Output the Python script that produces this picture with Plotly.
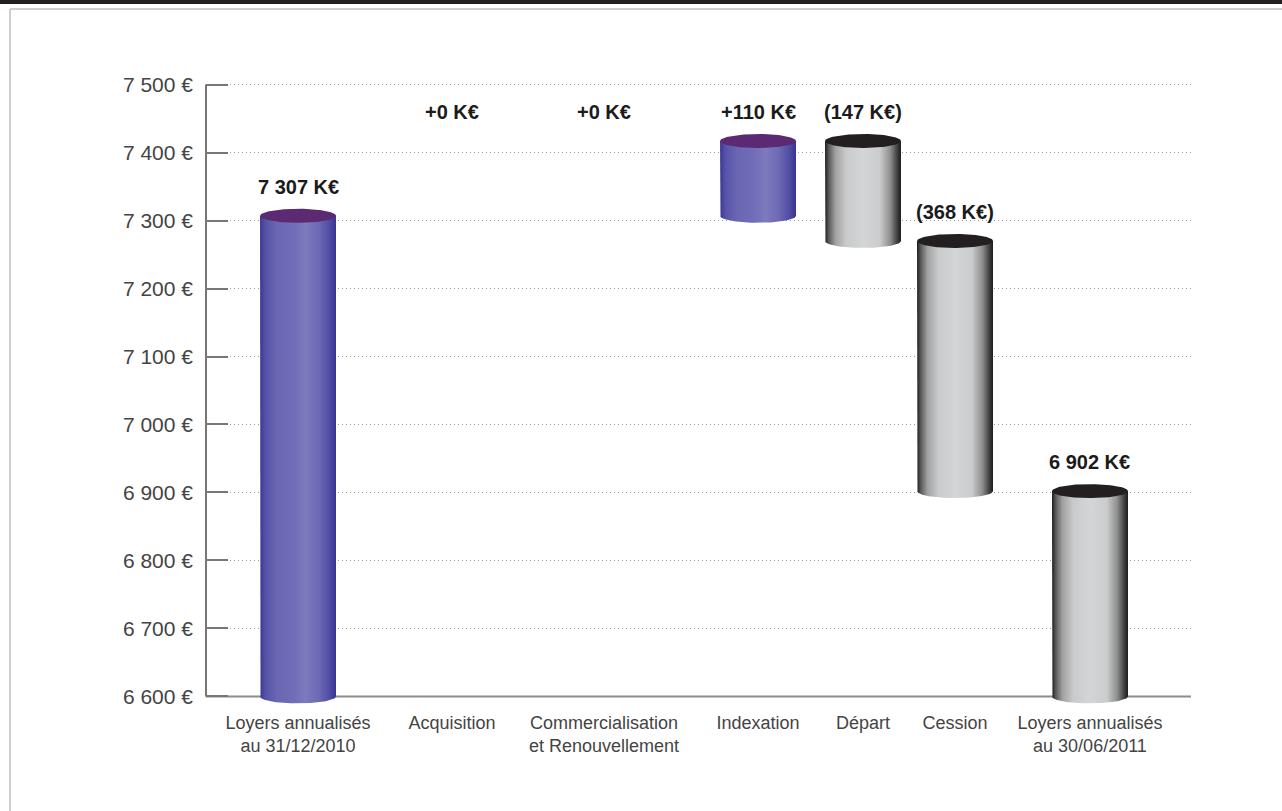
import numpy as np
import plotly.graph_objects as go

# ---- data -------------------------------------------------------------
categories = [
    "Loyers annualisés<br>au 31/12/2010",
    "Acquisition",
    "Commercialisation<br>et Renouvellement",
    "Indexation",
    "Départ",
    "Cession",
    "Loyers annualisés<br>au 30/06/2011",
]
measures = ["absolute", "relative", "relative", "relative", "relative", "relative", "total"]
deltas = [7307, 0, 0, 110, -147, -368, None]
value_labels = ["7 307 K€", "+0 K€", "+0 K€", "+110 K€", "(147 K€)", "(368 K€)", "6 902 K€"]
y_tick_values = [6600, 6700, 6800, 6900, 7000, 7100, 7200, 7300, 7400, 7500]
y_tick_labels = ["6 600 €", "6 700 €", "6 800 €", "6 900 €", "7 000 €",
                 "7 100 €", "7 200 €", "7 300 €", "7 400 €", "7 500 €"]

# ---- layout constants -------------------------------------------------
W, H = 1282, 811
M_L, M_R, M_T, M_B = 206, 91, 71, 101
X_RANGE = [0, 7]
Y_FLOOR, Y_TOP = 6600, 7500
Y_RANGE = [Y_FLOOR - 20, Y_TOP + 20]
cat_pos = [0.654, 1.748, 2.829, 3.923, 4.669, 5.323, 6.282]

plot_w = W - M_L - M_R
plot_h = H - M_T - M_B
px_per_x = plot_w / (X_RANGE[1] - X_RANGE[0])
px_per_y = plot_h / (Y_RANGE[1] - Y_RANGE[0])

RADIUS_PX = 38      # half width of a cylinder
CAP_PX = 7          # half height of the elliptic caps
a = RADIUS_PX / px_per_x
b = CAP_PX / px_per_y

PURPLE_BODY = [[0, "#3a3792"], [0.07, "#5652a8"], [0.22, "#6a66b2"], [0.45, "#716db7"],
               [0.6, "#7e7abf"], [0.78, "#6c68b3"], [0.92, "#4f4ba3"], [1, "#38348f"]]
PURPLE_CAP = "#5b2a72"
GRAY_BODY = [[0, "#1c1c1c"], [0.05, "#5a5a5a"], [0.14, "#a2a2a2"], [0.28, "#c9cacc"],
             [0.5, "#d4d5d7"], [0.72, "#cbcccd"], [0.86, "#8e8e8e"],
             [0.95, "#404040"], [1, "#1c1c1c"]]
GRAY_CAP = "#231f20"

FONT = "Liberation Sans, Arial, sans-serif"

# ---- waterfall geometry (running totals) ------------------------------
bottoms, tops = [], []
running = None
for m, d in zip(measures, deltas):
    if m == "absolute":
        running = d
        lo, hi = Y_FLOOR, d
    elif m == "total":
        lo, hi = Y_FLOOR, running
    else:
        start = running
        running = running + d
        lo, hi = min(start, running), max(start, running)
    bottoms.append(lo)
    tops.append(hi)

fig = go.Figure()

t_low = np.linspace(np.pi, 2 * np.pi, 60)
t_full = np.linspace(0, 2 * np.pi, 120)

for i, (m, d) in enumerate(zip(measures, deltas)):
    if tops[i] - bottoms[i] <= 0:
        continue
    xc = cat_pos[i]
    increasing = m == "absolute" or (m == "relative" and d > 0)
    body_scale = PURPLE_BODY if increasing else GRAY_BODY
    cap_color = PURPLE_CAP if increasing else GRAY_CAP
    lo, hi = bottoms[i], tops[i]

    # cylinder body: straight sides, rounded bottom
    bx = [xc - a, xc - a] + list(xc + a * np.cos(t_low)) + [xc + a, xc - a]
    by = [hi, lo] + list(lo + b * np.sin(t_low)) + [hi, hi]
    fig.add_trace(go.Scatter(
        x=bx, y=by, mode="lines", fill="toself",
        line=dict(width=0, color="rgba(0,0,0,0)"),
        fillgradient=dict(type="horizontal", colorscale=body_scale),
        hoverinfo="skip", showlegend=False,
    ))
    # top cap
    fig.add_trace(go.Scatter(
        x=xc + a * np.cos(t_full), y=hi + b * np.sin(t_full),
        mode="lines", fill="toself", fillcolor=cap_color,
        line=dict(width=0, color=cap_color),
        hoverinfo="skip", showlegend=False,
    ))

# value labels above each step
top_row = max(tops)
for i, txt in enumerate(value_labels):
    has_bar = tops[i] - bottoms[i] > 0
    y_lab = tops[i] if has_bar else top_row
    fig.add_annotation(
        x=cat_pos[i], y=y_lab, text=txt, showarrow=False,
        xanchor="center", yanchor="bottom", yshift=16,
        font=dict(family=FONT, size=20, color="#1b1b1b", weight="bold"),
    )


def px_x(p):
    return (p - M_L) / plot_w


def px_y(p):
    return (H - M_B - p) / plot_h


shapes = [
    # axis lines
    dict(type="line", xref="paper", yref="y", x0=0, x1=0, y0=Y_FLOOR, y1=Y_TOP,
         line=dict(color="#777777", width=2), layer="between"),
    dict(type="line", xref="paper", yref="y", x0=0, x1=1, y0=Y_FLOOR, y1=Y_FLOOR,
         line=dict(color="#8a8a8a", width=2), layer="between"),
    # page frame
    dict(type="rect", xref="paper", yref="paper", x0=px_x(0), x1=px_x(W),
         y0=px_y(4), y1=px_y(0), fillcolor="#231f20", line=dict(width=0), layer="above"),
    dict(type="line", xref="paper", yref="paper", x0=px_x(10), x1=px_x(W),
         y0=px_y(9), y1=px_y(9), line=dict(color="#cfcfcf", width=2), layer="above"),
    dict(type="line", xref="paper", yref="paper", x0=px_x(10), x1=px_x(10),
         y0=px_y(9), y1=px_y(H), line=dict(color="#cfcfcf", width=2), layer="above"),
]

fig.update_layout(
    width=W, height=H,
    margin=dict(l=M_L, r=M_R, t=M_T, b=M_B, pad=0),
    paper_bgcolor="white", plot_bgcolor="white",
    font=dict(family=FONT, color="#444444"),
    shapes=shapes,
    showlegend=False,
)
fig.update_xaxes(
    range=X_RANGE, tickmode="array", tickvals=cat_pos, ticktext=categories,
    showgrid=False, zeroline=False, showline=False, ticks="",
    tickfont=dict(size=18, color="#444444"), ticklabelstandoff=0,
    fixedrange=True,
)
fig.update_yaxes(
    range=Y_RANGE, tickmode="array", tickvals=y_tick_values, ticktext=y_tick_labels,
    showgrid=True, gridcolor="#9a9a9a", gridwidth=1, griddash="1px,3px",
    zeroline=False, showline=False,
    ticks="inside", ticklen=22, tickwidth=2, tickcolor="#777777",
    tickfont=dict(size=21, color="#444444"), ticklabelstandoff=12,
    fixedrange=True,
)

fig.write_html("out.html")
